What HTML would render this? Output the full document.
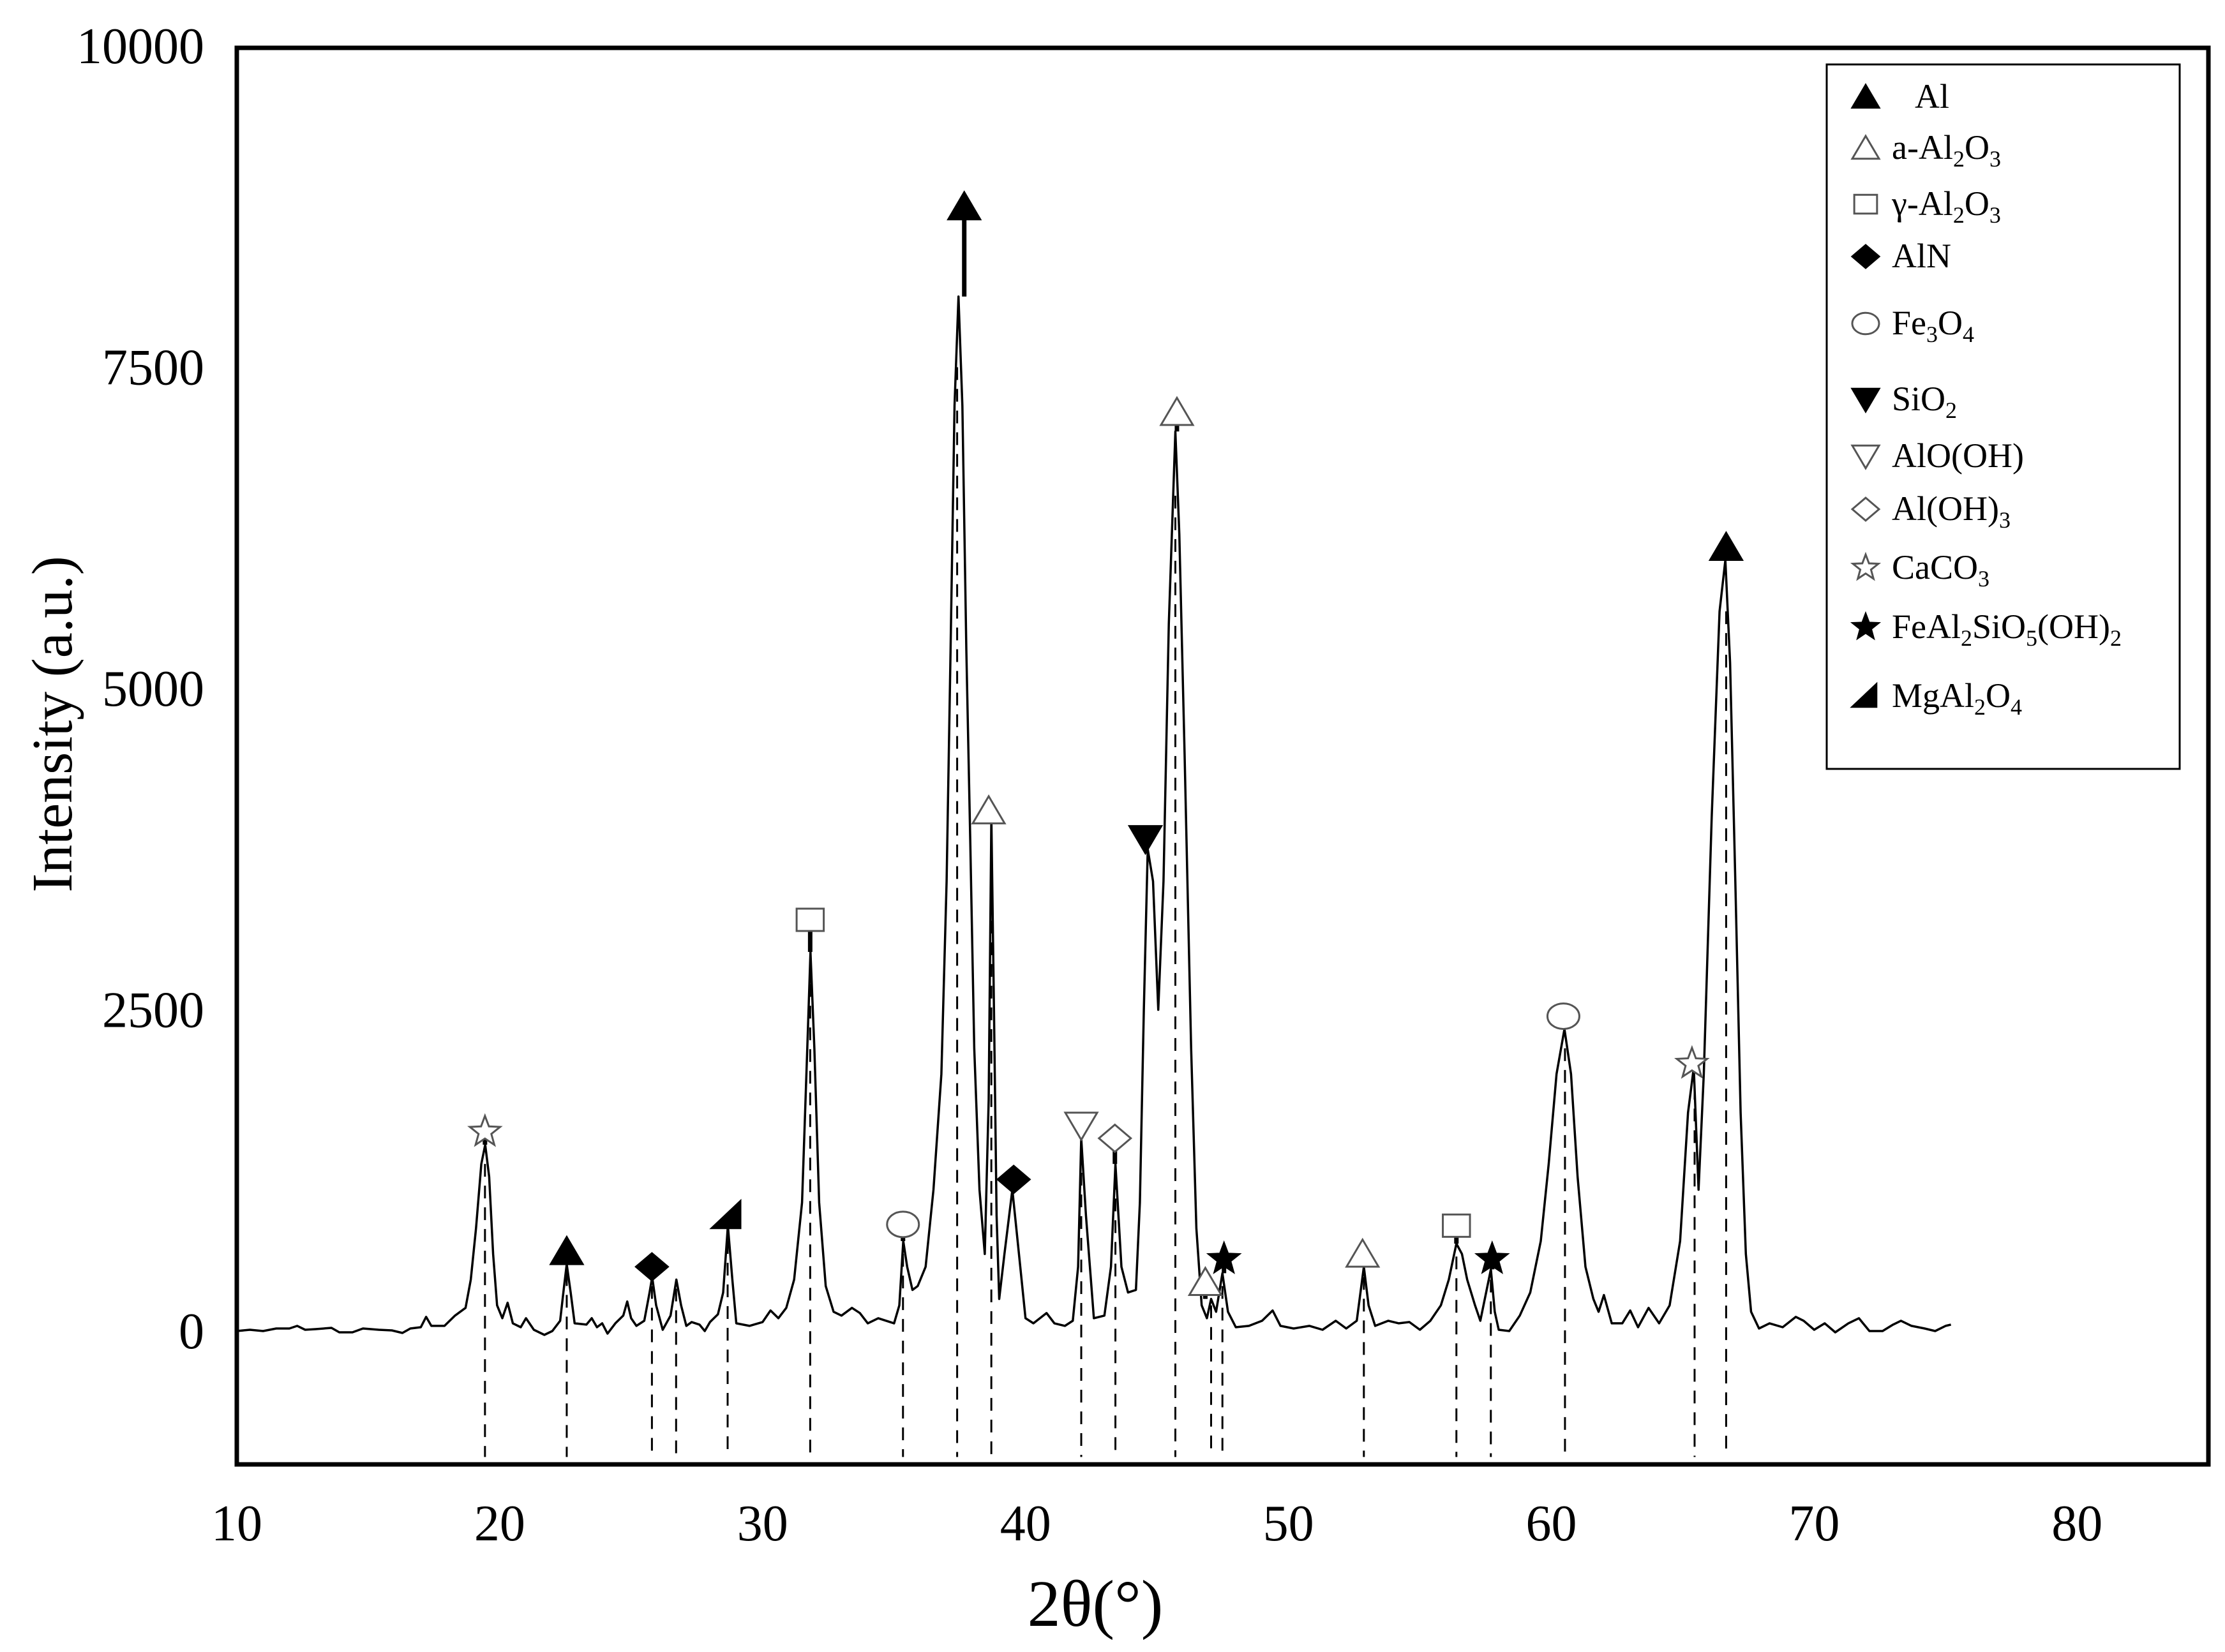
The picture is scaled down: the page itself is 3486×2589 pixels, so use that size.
<!DOCTYPE html>
<html><head><meta charset="utf-8"><style>
html,body{margin:0;padding:0;background:#fff}
svg{display:block}
text{font-family:"Liberation Serif",serif;fill:#000}
</style></head><body>
<svg id="chart" width="3486" height="2589" viewBox="0 0 3486 2589" xmlns="http://www.w3.org/2000/svg">
<rect x="0" y="0" width="3486" height="2589" fill="#fff"/>
<g id="marks"></g>
<rect x="371" y="75" width="3089" height="2220" fill="none" stroke="#000" stroke-width="7"/>
<g id="axes"></g>
<text x="1716" y="2548" font-size="104" text-anchor="middle">2θ(°)</text>
<text transform="translate(112,1135) rotate(-90)" font-size="90" text-anchor="middle">Intensity (a.u.)</text>
<g id="legend">
<rect x="2862" y="101" width="553" height="1104" fill="#fff" stroke="#000" stroke-width="3"/>
</g>
</svg>
<script>
const xTicks=[10,20,30,40,50,60,70,80];
const yTicks=[0,2500,5000,7500,10000];
const twoTheta=[10,10.5,11,11.5,12,12.3,12.6,13,13.6,13.9,14.4,14.8,15.4,15.9,16.3,16.6,17,17.2,17.4,17.9,18.3,18.7,18.9,19.1,19.3,19.45,19.6,19.75,19.9,20.1,20.3,20.5,20.8,21,21.3,21.7,22,22.3,22.45,22.55,22.7,22.85,23.3,23.5,23.7,23.9,24.1,24.4,24.7,24.85,25,25.2,25.5,25.7,25.8,25.95,26.2,26.5,26.72,26.9,27.1,27.3,27.6,27.8,28,28.3,28.5,28.68,28.85,29,29.5,30,30.3,30.6,30.9,31.2,31.5,31.7,31.82,31.97,32.15,32.4,32.7,33,33.4,33.7,34,34.4,34.7,35,35.2,35.35,35.5,35.7,35.9,36.2,36.5,36.8,37,37.15,37.3,37.45,37.6,37.75,37.9,38.05,38.25,38.45,38.6,38.7,38.8,38.9,39,39.2,39.5,39.8,40,40.3,40.8,41.1,41.5,41.8,42,42.12,42.3,42.6,43,43.25,43.42,43.65,43.9,44.2,44.35,44.5,44.65,44.85,45.05,45.25,45.45,45.7,45.85,46.05,46.3,46.5,46.7,46.9,47.06,47.25,47.49,47.7,48,48.5,49,49.4,49.7,50.2,50.8,51.3,51.8,52.2,52.6,52.87,53.05,53.3,53.8,54.2,54.6,55,55.4,55.8,56.1,56.39,56.6,56.8,57.1,57.3,57.7,57.85,58,58.4,58.8,59.2,59.6,59.9,60.2,60.5,60.75,61,61.3,61.6,61.8,62,62.3,62.7,63,63.3,63.7,64.1,64.5,64.9,65.2,65.42,65.6,65.8,66.1,66.4,66.62,66.8,67,67.2,67.4,67.6,67.9,68.3,68.8,69.3,69.6,70,70.4,70.8,71.3,71.7,72.1,72.6,73,73.3,73.7,74.2,74.6,75,75.2];
const intensity=[0,10,0,20,20,40,10,15,25,-10,-10,20,10,5,-15,20,30,110,40,40,120,180,400,800,1300,1450,1200,600,200,100,220,60,30,100,10,-30,0,80,350,520,300,60,50,100,30,60,-20,60,120,230,100,40,80,300,420,200,10,120,400,200,40,70,50,0,70,130,300,820,400,60,40,70,160,100,180,400,1000,2200,2950,2200,1000,350,150,120,180,140,60,100,80,60,200,700,500,320,350,500,1100,2000,3500,5300,7200,8050,7200,5300,3800,2200,1100,600,1800,4000,2500,900,250,600,1100,500,100,60,140,60,40,80,500,1500,900,100,120,500,1300,500,300,320,1000,2500,3750,3500,2500,3500,5500,7000,6200,4500,2200,800,200,100,250,150,450,150,30,40,80,160,40,20,40,10,80,20,80,500,200,40,80,60,70,10,80,200,400,680,600,400,200,80,480,150,10,0,120,300,700,1300,2000,2350,2000,1200,500,250,150,280,60,60,160,30,180,60,200,700,1700,2050,1100,2000,4000,5600,6000,5200,3500,1700,600,150,20,60,30,110,80,10,60,-10,60,100,0,0,50,80,40,20,0,40,50];
const dashPos=[19.44,22.55,25.79,26.71,28.67,31.81,35.34,37.4,38.7,42.12,43.42,45.7,47.06,47.49,52.87,56.39,57.7,60.52,65.45,66.65];
const dashTop=[1300,450,350,330,700,2700,600,7500,3700,1400,1200,6500,200,350,420,580,400,2200,1900,5600];
const mkX=[19.44,22.55,25.79,28.67,31.81,35.34,37.67,38.6,39.55,42.12,43.4,44.56,45.76,46.84,47.55,52.82,56.39,57.75,60.46,65.35,66.65];
const mkY=[1550,620,500,900,3200,830,8750,4050,1180,1600,1500,3830,7150,380,560,600,820,560,2450,2080,6100];
const mkStemBottom=[1450,520,420,820,2950,700,8050,3950,1100,1500,1300,3750,7000,250,450,500,680,480,2350,2050,6000];
const mkType=["starOpen","triUp","diamond","wedge","square","circle","triUp","triUpOpen","diamond","triDownOpen","diamondOpen","triDown","triUpOpen","triUpOpen","star","triUpOpen","square","star","circle","starOpen","triUp"];
const legendLabels=['Al','a-Al<tspan font-size="36" dy="12">2</tspan><tspan dy="-12">O</tspan><tspan font-size="36" dy="12">3</tspan>','γ-Al<tspan font-size="36" dy="12">2</tspan><tspan dy="-12">O</tspan><tspan font-size="36" dy="12">3</tspan>','AlN','Fe<tspan font-size="36" dy="12">3</tspan><tspan dy="-12">O</tspan><tspan font-size="36" dy="12">4</tspan>','SiO<tspan font-size="36" dy="12">2</tspan>','AlO(OH)','Al(OH)<tspan font-size="36" dy="12">3</tspan>','CaCO<tspan font-size="36" dy="12">3</tspan>','FeAl<tspan font-size="36" dy="12">2</tspan><tspan dy="-12">SiO</tspan><tspan font-size="36" dy="12">5</tspan><tspan dy="-12">(OH)</tspan><tspan font-size="36" dy="12">2</tspan>','MgAl<tspan font-size="36" dy="12">2</tspan><tspan dy="-12">O</tspan><tspan font-size="36" dy="12">4</tspan>'];
const legendTypes=["triUp","triUpOpen","square","diamond","circle","triDown","triDownOpen","diamondOpen","starOpen","star","wedge"];
const legendY=[152,232,320,402,507,626,715,798,890,983,1091];

const X=v=>371+(v-10)*41.19;
const Y=v=>2086-v*0.2014;
const NS="http://www.w3.org/2000/svg";
function mk(tag,attrs,parent){const e=document.createElementNS(NS,tag);for(const k in attrs)e.setAttribute(k,attrs[k]);parent.appendChild(e);return e;}
const marks=document.getElementById('marks'),axes=document.getElementById('axes'),legend=document.getElementById('legend');

xTicks.forEach(t=>{const e=mk('text',{x:X(t),y:2414,'font-size':80,'text-anchor':'middle'},axes);e.textContent=t;

});
yTicks.forEach(t=>{const e=mk('text',{x:320,y:Y(t)+27,'font-size':80,'text-anchor':'end'},axes);e.textContent=t;

});

dashPos.forEach((p,i)=>{const l=mk('line',{x1:X(p),x2:X(p),y1:Y(dashTop[i]),y2:Y(-980),stroke:'#000','stroke-width':3,'stroke-dasharray':'20 14'},marks);

});

const pts=twoTheta.map((t,i)=>X(t).toFixed(1)+','+Y(intensity[i]).toFixed(1)).join(' ');
const pl=mk('polyline',{points:pts,fill:'none',stroke:'#000','stroke-width':3.5,'stroke-linejoin':'round'},marks);



function starPts(cx,cy,R,r){let s=[];for(let k=0;k<10;k++){const a=-Math.PI/2+k*Math.PI/5,rr=k%2?r:R;s.push((cx+rr*Math.cos(a)).toFixed(1)+','+(cy+rr*Math.sin(a)).toFixed(1));}return s.join(' ');}
function symbol(type,cx,cy,s,parent){
  const h=s/2;let e;
  const fill=/Open|circle|square/.test(type)?'#fff':'#000';
  const st={stroke:fill==='#fff'?'#555':'#000','stroke-width':3,fill:fill};
  if(type.startsWith('triUp'))e=mk('polygon',Object.assign({points:`${cx-h},${cy+h*0.8} ${cx+h},${cy+h*0.8} ${cx},${cy-h*0.9}`},st),parent);
  else if(type.startsWith('triDown'))e=mk('polygon',Object.assign({points:`${cx-h},${cy-h*0.8} ${cx+h},${cy-h*0.8} ${cx},${cy+h*0.9}`},st),parent);
  else if(type.startsWith('diamond'))e=mk('polygon',Object.assign({points:`${cx-h},${cy} ${cx},${cy-h*0.85} ${cx+h},${cy} ${cx},${cy+h*0.85}`},st),parent);
  else if(type==='wedge')e=mk('polygon',Object.assign({points:`${cx-h},${cy+h*0.8} ${cx+h*0.8},${cy+h*0.8} ${cx+h*0.8},${cy-h*0.9}`},st),parent);
  else if(type==='square')e=mk('rect',Object.assign({x:cx-h*0.85,y:cy-h*0.7,width:h*1.7,height:h*1.4},st),parent);
  else if(type==='circle')e=mk('ellipse',Object.assign({cx:cx,cy:cy,rx:h,ry:h*0.8},st),parent);
  else e=mk('polygon',Object.assign({points:starPts(cx,cy,h,h*0.42)},st),parent);
  return e;
}
mkX.forEach((p,i)=>{
  const stem=mk('line',{x1:X(p),x2:X(p),y1:Y(mkY[i]),y2:Y(mkStemBottom[i]),stroke:'#000','stroke-width':7},marks);
  
  
  const e=symbol(mkType[i],X(p),Y(mkY[i]),50,marks);
  
  
});
legendTypes.forEach((t,i)=>{
  const e=symbol(t,2923,legendY[i],42,legend);
  
  
  const tx=mk('text',{x:i===0?3000:2964,y:legendY[i]+17,'font-size':54},legend);
  tx.innerHTML=legendLabels[i];
  
  
});
</script>
</body></html>
